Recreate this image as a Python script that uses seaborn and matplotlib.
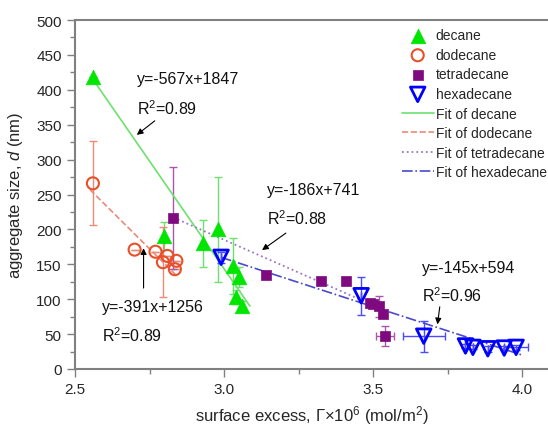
import matplotlib
matplotlib.use('Agg')
import matplotlib.pyplot as plt
from matplotlib.ticker import MultipleLocator
import seaborn as sns

# values
decane_x = [2.56, 2.80, 2.93, 2.98, 3.03, 3.05, 3.04, 3.06]
decane_y = [418, 190, 180, 200, 148, 132, 103, 90]
decane_yerr = [0, 20, 34, 75, 40, 14, 10, 8]

dodecane_x = [2.56, 2.70, 2.77, 2.795, 2.81, 2.84, 2.835]
dodecane_y = [266, 171, 168, 153, 162, 155, 143]
dodecane_yerr = [60, 0, 0, 50, 0, 0, 0]

tetra_x = [2.83, 3.14, 3.325, 3.41, 3.49, 3.50, 3.52, 3.535, 3.54]
tetra_y = [216, 134, 126, 126, 95, 93, 90, 79, 47]
tetra_yerr = [73, 0, 0, 0, 0, 0, 15, 0, 14]
tetra_xerr = [0, 0, 0, 0, 0, 0, 0, 0, 0.03]

hexa_x = [2.99, 3.46, 3.67, 3.81, 3.835, 3.885, 3.94, 3.98]
hexa_y = [160, 105, 47, 33, 31, 29, 30, 31]
hexa_yerr = [8, 27, 22, 3, 3, 4, 3, 4]
hexa_xerr = [0, 0, 0.07, 0, 0, 0, 0, 0.04]

# fitted lines (end points as drawn)
fit_decane_x = [2.56, 3.087]
fit_decane_y = [415, 90]
fit_dodecane_x = [2.55, 2.845]
fit_dodecane_y = [257, 132]
fit_tetra_x = [2.83, 3.55]
fit_tetra_y = [217, 82]
fit_hexa_x = [2.99, 4.0]
fit_hexa_y = [160, 20]

sns.set_style('ticks')
plt.rcParams['font.family'] = ['Liberation Sans', 'DejaVu Sans']
plt.rcParams['mathtext.fontset'] = 'custom'
plt.rcParams['mathtext.rm'] = 'Liberation Sans'
plt.rcParams['mathtext.it'] = 'Liberation Sans:italic'

fig = plt.figure(figsize=(5.48, 4.27), dpi=100)
ax = fig.add_axes([0.1369, 0.1335, 0.8631, 0.8173])

# error bars
ax.errorbar(decane_x, decane_y, yerr=decane_yerr, fmt='none', ecolor='#6ee06e', elinewidth=1, capsize=3)
ax.errorbar(dodecane_x, dodecane_y, yerr=dodecane_yerr, fmt='none', ecolor='#ec8a78', elinewidth=1, capsize=3)
ax.errorbar(tetra_x, tetra_y, yerr=tetra_yerr, xerr=tetra_xerr, fmt='none', ecolor='#a958a9', elinewidth=1, capsize=3)
ax.errorbar(hexa_x, hexa_y, yerr=hexa_yerr, xerr=hexa_xerr, fmt='none', ecolor='#4a4aff', elinewidth=1, capsize=3)

# markers
sns.scatterplot(x=decane_x, y=decane_y, marker='^', s=110, color='#00e600', edgecolor='#00e600',
                linewidth=0.5, label='decane', ax=ax, zorder=3)
sns.scatterplot(x=dodecane_x, y=dodecane_y, marker='o', s=75, fc='none', edgecolor='#e8502a',
                linewidth=1.5, label='dodecane', ax=ax, zorder=3)
sns.scatterplot(x=tetra_x, y=tetra_y, marker='s', s=55, color='#7f0a80', edgecolor='#7f0a80',
                linewidth=0.5, label='tetradecane', ax=ax, zorder=3)
sns.scatterplot(x=hexa_x, y=hexa_y, marker='v', s=110, fc='none', edgecolor='#0000ff',
                linewidth=2, label='hexadecane', ax=ax, zorder=3)

# fit lines
sns.lineplot(x=fit_decane_x, y=fit_decane_y, color='#6ee06e', linewidth=1.2, label='Fit of decane', ax=ax)
sns.lineplot(x=fit_dodecane_x, y=fit_dodecane_y, color='#ec8a78', linewidth=1.2, linestyle='--',
             label='Fit of dodecane', ax=ax)
sns.lineplot(x=fit_tetra_x, y=fit_tetra_y, color='#9a78c8', linewidth=1.3, linestyle=':',
             label='Fit of tetradecane', ax=ax)
sns.lineplot(x=fit_hexa_x, y=fit_hexa_y, color='#4a4acc', linewidth=1.2, linestyle='-.',
             label='Fit of hexadecane', ax=ax)

# equations and arrows
txt = dict(fontsize=11.5, color='#111111', va='center', ha='left')
ax.text(2.707, 416, 'y=-567x+1847', **txt)
ax.text(2.707, 375, 'R$^2$=0.89', **txt)
ax.annotate('', xy=(2.70, 333), xytext=(2.775, 358),
            arrowprops=dict(arrowstyle='-|>', color='black', lw=0.8, mutation_scale=9))
ax.text(3.145, 257, 'y=-186x+741', **txt)
ax.text(3.145, 217, 'R$^2$=0.88', **txt)
ax.annotate('', xy=(3.12, 168), xytext=(3.215, 197),
            arrowprops=dict(arrowstyle='-|>', color='black', lw=0.8, mutation_scale=9))
ax.text(2.590, 90, 'y=-391x+1256', **txt)
ax.text(2.590, 49, 'R$^2$=0.89', **txt)
ax.annotate('', xy=(2.73, 177), xytext=(2.73, 112),
            arrowprops=dict(arrowstyle='-|>', color='black', lw=0.8, mutation_scale=9))
ax.text(3.665, 146, 'y=-145x+594', **txt)
ax.text(3.665, 106, 'R$^2$=0.96', **txt)
ax.annotate('', xy=(3.715, 60), xytext=(3.725, 93),
            arrowprops=dict(arrowstyle='-|>', color='black', lw=0.8, mutation_scale=9))

ax.set_xlim(2.5, 4.087)
ax.set_ylim(0, 500)
ax.xaxis.set_major_locator(MultipleLocator(0.5))
ax.xaxis.set_minor_locator(MultipleLocator(0.25))
ax.yaxis.set_major_locator(MultipleLocator(50))
ax.yaxis.set_minor_locator(MultipleLocator(25))
ax.set_xticks([2.5, 3.0, 3.5, 4.0])
ax.set_xticklabels(['2.5', '3.0', '3.5', '4.0'])
ax.tick_params(axis='both', which='major', labelsize=11, length=6, width=1, color='#808080', direction='out')
ax.tick_params(axis='both', which='minor', length=3.5, width=1, color='#808080', direction='out')

for side in ['left', 'bottom', 'top']:
    ax.spines[side].set_visible(True)
    ax.spines[side].set_color('#808080')
    ax.spines[side].set_linewidth(1.5)
ax.spines['right'].set_visible(False)

ax.set_xlabel(r'surface excess, $\mathit{Γ}$×10$^6$ (mol/m$^2$)', fontsize=12, labelpad=5)
ax.set_ylabel(r'aggregate size, $\mathit{d}$ (nm)', fontsize=12, labelpad=8)

ax.legend(loc='upper right', bbox_to_anchor=(1.015, 1.0), frameon=False, fontsize=10,
          labelspacing=0.4, handlelength=2.3, handletextpad=0.15, borderaxespad=0.2)

fig.savefig('out.png', dpi=100)
